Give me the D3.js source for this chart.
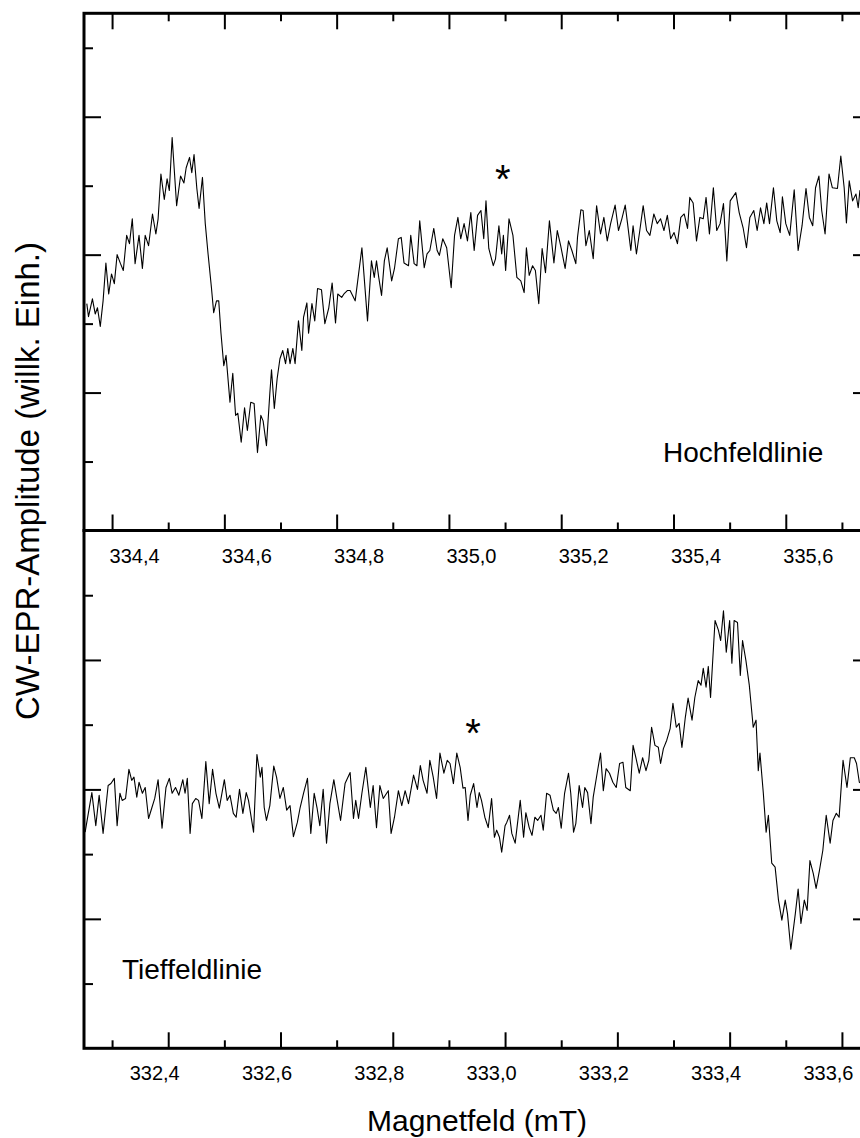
<!DOCTYPE html>
<html>
<head>
<meta charset="utf-8">
<script src="https://cdn.jsdelivr.net/npm/d3@7"></script>
<style>
body { margin: 0; background: #fff; }
svg { display: block; font-family: Arial, "Liberation Sans", sans-serif; }
</style>
</head>
<body>
<svg></svg>
<script>
// Hochfeldlinie (oberes Spektrum), Feld in mT, Amplitude in willk. Einh.
let fieldTop = [
    334.355, 334.358, 334.365, 334.370, 334.374, 334.379, 334.384, 334.389, 334.394, 334.399,
    334.404, 334.409, 334.415, 334.420, 334.426, 334.431, 334.436, 334.441, 334.448, 334.454,
    334.459, 334.465, 334.472, 334.478, 334.482, 334.487, 334.493, 334.498, 334.502, 334.507,
    334.515, 334.522, 334.528, 334.532, 334.538, 334.542, 334.546, 334.551, 334.555, 334.561,
    334.566, 334.571, 334.577, 334.581, 334.586, 334.590, 334.594, 334.599, 334.603, 334.610,
    334.615, 334.620, 334.624, 334.630, 334.636, 334.641, 334.647, 334.653, 334.659, 334.665,
    334.669, 334.675, 334.681, 334.684, 334.689, 334.694, 334.699, 334.704, 334.709, 334.713,
    334.717, 334.722, 334.726, 334.732, 334.738, 334.741, 334.747, 334.750, 334.756, 334.761,
    334.766, 334.773, 334.779, 334.786, 334.792, 334.798, 334.802, 334.809, 334.813, 334.819,
    334.824, 334.833, 334.845, 334.855, 334.862, 334.867, 334.871, 334.875, 334.880, 334.885,
    334.890, 334.898, 334.903, 334.910, 334.915, 334.920, 334.928, 334.932, 334.938, 334.943,
    334.948, 334.956, 334.961, 334.966, 334.973, 334.979, 334.983, 334.989, 334.996, 335.004,
    335.010, 335.016, 335.021, 335.027, 335.033, 335.039, 335.045, 335.051, 335.057, 335.062,
    335.066, 335.071, 335.079, 335.083, 335.089, 335.094, 335.097, 335.101, 335.107, 335.114,
    335.121, 335.128, 335.134, 335.138, 335.143, 335.149, 335.154, 335.160, 335.166, 335.172,
    335.179, 335.187, 335.193, 335.199, 335.207, 335.213, 335.219, 335.226, 335.229, 335.235,
    335.239, 335.244, 335.250, 335.257, 335.263, 335.270, 335.276, 335.282, 335.288, 335.296,
    335.302, 335.308, 335.314, 335.318, 335.324, 335.328, 335.334, 335.340, 335.346, 335.352,
    335.358, 335.365, 335.371, 335.377, 335.383, 335.389, 335.395, 335.401, 335.407, 335.413,
    335.419, 335.425, 335.429, 335.435, 335.441, 335.447, 335.453, 335.458, 335.464, 335.471,
    335.477, 335.483, 335.489, 335.495, 335.501, 335.511, 335.517, 335.524, 335.530, 335.536,
    335.543, 335.549, 335.555, 335.561, 335.566, 335.571, 335.578, 335.584, 335.590, 335.594,
    335.600, 335.607, 335.615, 335.622, 335.629, 335.636, 335.642, 335.648, 335.653, 335.659,
    335.664, 335.670, 335.677, 335.683, 335.692, 335.698, 335.704, 335.708, 335.713, 335.719,
    335.725, 335.729, 335.732, 335.743
];
let ampTop = [
    -0.71, -0.90, -0.64, -0.86, -0.77, -1.04, -0.67, -0.12, -0.57, -0.28,
    -0.42, 0.00, -0.13, -0.23, 0.28, 0.16, 0.52, -0.13, 0.28, -0.20,
    0.28, 0.13, 0.59, 0.30, 0.52, 1.17, 0.80, 1.10, 0.93, 1.70,
    0.71, 1.14, 1.04, 1.26, 1.41, 1.19, 1.45, 0.96, 0.67, 1.12,
    0.45, 0.01, -0.48, -0.84, -0.67, -0.67, -1.14, -1.61, -1.46, -2.14,
    -1.72, -2.33, -2.30, -2.72, -2.22, -2.55, -2.14, -2.16, -2.87, -2.33,
    -2.41, -2.77, -2.01, -1.67, -2.23, -1.80, -1.51, -1.39, -1.58, -1.36,
    -1.58, -1.36, -1.58, -0.96, -1.39, -0.91, -0.70, -1.14, -0.71, -0.96,
    -0.49, -0.51, -1.00, -0.77, -0.41, -0.99, -0.57, -0.62, -0.57, -0.52,
    -0.52, -0.67, 0.10, -0.96, -0.09, -0.33, -0.09, -0.33, -0.59, -0.09,
    0.10, -0.38, -0.20, 0.23, 0.25, -0.12, -0.16, 0.28, -0.13, -0.16,
    0.49, -0.19, 0.01, 0.06, 0.38, 0.06, -0.01, 0.23, 0.10, -0.48,
    0.28, 0.54, 0.23, 0.45, 0.20, 0.61, 0.06, 0.57, 0.64, 0.23,
    0.78, 0.09, -0.16, -0.06, 0.42, 0.01, 0.28, -0.23, 0.52, 0.28,
    -0.33, -0.38, -0.55, 0.10, -0.30, -0.16, -0.23, -0.71, 0.09, -0.26,
    0.49, -0.12, 0.35, 0.13, -0.20, 0.20, 0.06, -0.13, 0.25, 0.65,
    0.64, 0.13, 0.35, -0.06, 0.71, 0.30, 0.54, 0.20, 0.45, 0.72,
    0.35, 0.52, 0.72, 0.46, 0.06, 0.42, 0.01, 0.35, 0.71, 0.35,
    0.28, 0.59, 0.45, 0.52, 0.35, 0.57, 0.23, 0.32, 0.16, 0.54,
    0.59, 0.38, 0.83, 0.75, 0.20, 0.54, 0.52, 0.83, 0.30, 0.97,
    0.35, 0.45, 0.74, -0.09, 0.78, 0.90, 0.61, 0.39, 0.10, 0.54,
    0.64, 0.35, 0.68, 0.45, 0.75, 0.45, 0.97, 0.49, 0.32, 0.84,
    0.45, 0.28, 0.94, 0.06, 0.42, 0.96, 0.54, 0.42, 0.97, 1.14,
    0.64, 0.30, 1.17, 0.97, 0.96, 1.43, 0.97, 0.46, 1.07, 0.78,
    0.88, 0.68, 0.93, 0.86
];

// Tieffeldlinie (unteres Spektrum)
let fieldBottom = [
    332.252, 332.264, 332.271, 332.277, 332.284, 332.293, 332.298, 332.304, 332.309, 332.314,
    332.318, 332.324, 332.330, 332.335, 332.339, 332.344, 332.348, 332.354, 332.359, 332.365,
    332.371, 332.376, 332.382, 332.389, 332.396, 332.402, 332.407, 332.413, 332.419, 332.426,
    332.430, 332.434, 332.439, 332.443, 332.449, 332.454, 332.460, 332.467, 332.473, 332.479,
    332.485, 332.491, 332.500, 332.505, 332.510, 332.516, 332.521, 332.527, 332.533, 332.539,
    332.543, 332.552, 332.558, 332.564, 332.567, 332.571, 332.575, 332.581, 332.588, 332.593,
    332.599, 332.605, 332.611, 332.617, 332.623, 332.630, 332.635, 332.641, 332.648, 332.654,
    332.660, 332.665, 332.670, 332.676, 332.682, 332.688, 332.695, 332.701, 332.707, 332.715,
    332.724, 332.730, 332.734, 332.739, 332.745, 332.752, 332.760, 332.765, 332.771, 332.777,
    332.783, 332.792, 332.797, 332.803, 332.810, 332.816, 332.822, 332.828, 332.837, 332.844,
    332.849, 332.854, 332.861, 332.866, 332.872, 332.878, 332.884, 332.891, 332.897, 332.902,
    332.908, 332.914, 332.920, 332.925, 332.929, 332.934, 332.938, 332.944, 332.950, 332.954,
    332.958, 332.964, 332.970, 332.976, 332.981, 332.985, 332.990, 332.994, 333.000, 333.003,
    333.008, 333.012, 333.018, 333.027, 333.033, 333.037, 333.043, 333.048, 333.053, 333.058,
    333.064, 333.068, 333.074, 333.080, 333.086, 333.091, 333.095, 333.100, 333.106, 333.113,
    333.117, 333.122, 333.126, 333.132, 333.138, 333.142, 333.147, 333.153, 333.157, 333.164,
    333.170, 333.175, 333.180, 333.186, 333.192, 333.198, 333.204, 333.210, 333.215, 333.223,
    333.228, 333.233, 333.239, 333.245, 333.251, 333.256, 333.261, 333.267, 333.273, 333.277,
    333.282, 333.288, 333.294, 333.299, 333.305, 333.310, 333.315, 333.321, 333.326, 333.333,
    333.338, 333.344, 333.349, 333.353, 333.358, 333.362, 333.366, 333.374, 333.380, 333.384,
    333.389, 333.394, 333.400, 333.404, 333.408, 333.414, 333.419, 333.423, 333.429, 333.435,
    333.442, 333.447, 333.451, 333.454, 333.460, 333.465, 333.469, 333.475, 333.481, 333.487,
    333.493, 333.499, 333.503, 333.509, 333.517, 333.522, 333.527, 333.533, 333.538, 333.543,
    333.549, 333.554, 333.560, 333.566, 333.572, 333.579, 333.584, 333.590, 333.595, 333.602,
    333.609, 333.615, 333.622, 333.626, 333.631, 333.643
];
let ampBottom = [
    -0.66, -0.05, -0.56, -0.09, -0.68, 0.06, 0.09, 0.17, -0.56, -0.06,
    -0.17, -0.14, 0.31, 0.14, 0.19, -0.12, 0.11, -0.06, 0.03, -0.45,
    -0.28, -0.14, 0.15, -0.60, 0.03, 0.17, -0.06, 0.03, -0.09, 0.15,
    -0.06, 0.17, -0.68, -0.22, -0.14, -0.17, -0.45, 0.43, -0.22, 0.31,
    -0.06, -0.29, 0.15, -0.17, -0.09, -0.37, -0.43, 0.00, -0.37, -0.05,
    -0.17, -0.66, 0.54, 0.19, 0.34, -0.28, -0.48, -0.25, 0.36, 0.19,
    -0.14, 0.03, -0.32, -0.25, -0.73, -0.51, -0.28, -0.06, 0.17, -0.68,
    -0.06, -0.28, -0.56, 0.00, -0.83, -0.22, 0.15, -0.17, -0.48, 0.09,
    0.26, -0.45, -0.17, -0.45, -0.06, 0.34, -0.28, 0.06, -0.59, 0.06,
    -0.14, -0.02, -0.68, -0.43, -0.02, -0.25, -0.02, -0.22, 0.22, 0.00,
    0.37, 0.14, -0.06, 0.45, 0.19, -0.14, 0.56, 0.25, 0.45, 0.40,
    0.09, 0.56, 0.34, 0.02, 0.03, -0.48, -0.09, 0.09, -0.28, -0.05,
    -0.17, -0.43, -0.59, -0.14, -0.74, -0.63, -0.74, -0.97, -0.56, -0.51,
    -0.40, -0.68, -0.83, -0.17, -0.74, -0.36, -0.59, -0.71, -0.43, -0.48,
    -0.40, -0.63, -0.06, -0.09, -0.32, -0.37, -0.28, -0.60, -0.06, 0.25,
    -0.06, -0.66, -0.53, 0.06, -0.28, 0.03, -0.05, -0.53, -0.12, 0.25,
    0.56, -0.02, 0.32, 0.25, 0.11, 0.03, 0.40, 0.42, 0.03, -0.02,
    0.68, 0.49, 0.25, 0.49, 0.29, 0.45, 0.96, 0.68, 0.65, 0.40,
    0.63, 0.76, 0.94, 1.33, 0.96, 1.02, 0.65, 1.11, 1.41, 1.07,
    1.42, 1.68, 1.61, 1.87, 1.58, 1.90, 1.42, 2.61, 2.46, 2.30,
    2.76, 2.12, 2.61, 1.95, 2.61, 2.58, 1.76, 2.30, 1.99, 1.61,
    0.96, 1.07, 0.29, 0.56, -0.06, -0.66, -0.40, -1.14, -1.20, -1.71,
    -2.02, -1.71, -1.92, -2.47, -1.92, -1.54, -2.07, -1.71, -1.87, -1.10,
    -1.30, -1.53, -1.25, -0.94, -0.40, -0.83, -0.48, -0.37, -0.43, 0.45,
    0.03, 0.49, 0.49, 0.40, 0.11, 0.06
];

// Achsenteilung
let ticksTop = [334.4, 334.6, 334.8, 335.0, 335.2, 335.4, 335.6];
let minorTop = [334.5, 334.7, 334.9, 335.1, 335.3, 335.5, 335.7];
let ticksBottom = [332.4, 332.6, 332.8, 333.0, 333.2, 333.4, 333.6];
let minorBottom = [332.3, 332.5, 332.7, 332.9, 333.1, 333.3, 333.5];
let yMajor = [-2, 0, 2];
let yMinor = [-3, -1, 1, 3];

let width = 860;
let height = 1138;
let left = 84;
let right = 870; // rechter Rahmen liegt knapp ausserhalb des Bildes

let svg = d3.select("svg")
    .attr("width", width)
    .attr("height", height);

let fmt = d3.formatLocale({decimal: ",", thousands: ".", grouping: [3], currency: ["", ""]}).format(".1f");

function styleTicks(g) {
    g.select(".domain").remove();
    g.selectAll(".tick line").attr("stroke", "#000").attr("stroke-width", 2);
    g.selectAll("text").attr("fill", "#000");
}

function drawPanel(field, amp, xDomain, yDomain, top, bottom, major, minor, shift, withTopTicks, id) {
    let x = d3.scaleLinear().domain(xDomain).range([left, right]);
    let y = d3.scaleLinear().domain(yDomain).range([bottom, top]);

    svg.append("clipPath").attr("id", id)
        .append("rect")
        .attr("x", left).attr("y", top)
        .attr("width", right - left).attr("height", bottom - top);

    let data = field.map((f, i) => ({x: f, a: amp[i]}));
    let line = d3.line().x(d => x(d.x)).y(d => y(d.a));

    svg.append("path")
        .datum(data)
        .attr("d", line)
        .attr("clip-path", `url(#${id})`)
        .attr("fill", "none")
        .attr("stroke", "#000")
        .attr("stroke-width", 1.1)
        .attr("stroke-linejoin", "round");

    // untere x-Achse, Striche nach innen
    let gx = svg.append("g")
        .attr("transform", `translate(0,${bottom})`)
        .call(d3.axisBottom(x).tickValues(major).tickFormat(fmt)
            .tickSizeInner(-16).tickSizeOuter(0).tickPadding(18));
    gx.attr("font-size", 20).attr("font-family", "Arial, 'Liberation Sans', sans-serif");
    styleTicks(gx);
    gx.selectAll("text").attr("dx", shift);

    let gxm = svg.append("g")
        .attr("transform", `translate(0,${bottom})`)
        .call(d3.axisBottom(x).tickValues(minor).tickFormat("").tickSizeInner(-8).tickSizeOuter(0));
    styleTicks(gxm);

    if (withTopTicks) {
        let gt = svg.append("g")
            .attr("transform", `translate(0,${top})`)
            .call(d3.axisTop(x).tickValues(major).tickFormat("").tickSizeInner(-16).tickSizeOuter(0));
        styleTicks(gt);
        let gtm = svg.append("g")
            .attr("transform", `translate(0,${top})`)
            .call(d3.axisTop(x).tickValues(minor).tickFormat("").tickSizeInner(-8).tickSizeOuter(0));
        styleTicks(gtm);
    }

    // y-Achsen links und rechts, ohne Beschriftung
    let gl = svg.append("g").attr("transform", `translate(${left},0)`)
        .call(d3.axisLeft(y).tickValues(yMajor).tickFormat("").tickSizeInner(-17).tickSizeOuter(0));
    styleTicks(gl);
    let glm = svg.append("g").attr("transform", `translate(${left},0)`)
        .call(d3.axisLeft(y).tickValues(yMinor).tickFormat("").tickSizeInner(-9).tickSizeOuter(0));
    styleTicks(glm);
    let gr = svg.append("g").attr("transform", `translate(${right},0)`)
        .call(d3.axisRight(y).tickValues(yMajor).tickFormat("").tickSizeInner(-17).tickSizeOuter(0));
    styleTicks(gr);
    let grm = svg.append("g").attr("transform", `translate(${right},0)`)
        .call(d3.axisRight(y).tickValues(yMinor).tickFormat("").tickSizeInner(-9).tickSizeOuter(0));
    styleTicks(grm);

    // Rahmen
    svg.append("rect")
        .attr("x", left).attr("y", top)
        .attr("width", right - left).attr("height", bottom - top)
        .attr("fill", "none")
        .attr("stroke", "#000")
        .attr("stroke-width", 3);

    return {x: x, y: y};
}

let pTop = drawPanel(fieldTop, ampTop, [334.35, 335.75], [-4, 3.5], 13.3, 530.5,
    ticksTop, minorTop, 22, true, "clipTop");
let pBottom = drawPanel(fieldBottom, ampBottom, [332.25, 333.65], [-4, 4], 530.5, 1048.3,
    ticksBottom, minorBottom, -14, false, "clipBottom");

// Sternchen
svg.append("text")
    .attr("x", pTop.x(335.096)).attr("y", pTop.y(1.22))
    .attr("dy", "0.57em")
    .attr("text-anchor", "middle")
    .style("font-size", "40px")
    .text("*");
svg.append("text")
    .attr("x", pBottom.x(332.943)).attr("y", pBottom.y(1.0))
    .attr("dy", "0.57em")
    .attr("text-anchor", "middle")
    .style("font-size", "40px")
    .text("*");

svg.append("text")
    .attr("x", 663).attr("y", 462)
    .style("font-size", "28px")
    .text("Hochfeldlinie");
svg.append("text")
    .attr("x", 122).attr("y", 979)
    .style("font-size", "28px")
    .text("Tieffeldlinie");

// Achsentitel
svg.append("text")
    .attr("x", 477).attr("y", 1131)
    .attr("text-anchor", "middle")
    .style("font-size", "30px")
    .text("Magnetfeld (mT)");
svg.append("text")
    .attr("transform", "translate(39,481) rotate(-90)")
    .attr("text-anchor", "middle")
    .style("font-size", "33px")
    .text("CW-EPR-Amplitude (willk. Einh.)");
</script>
</body>
</html>
